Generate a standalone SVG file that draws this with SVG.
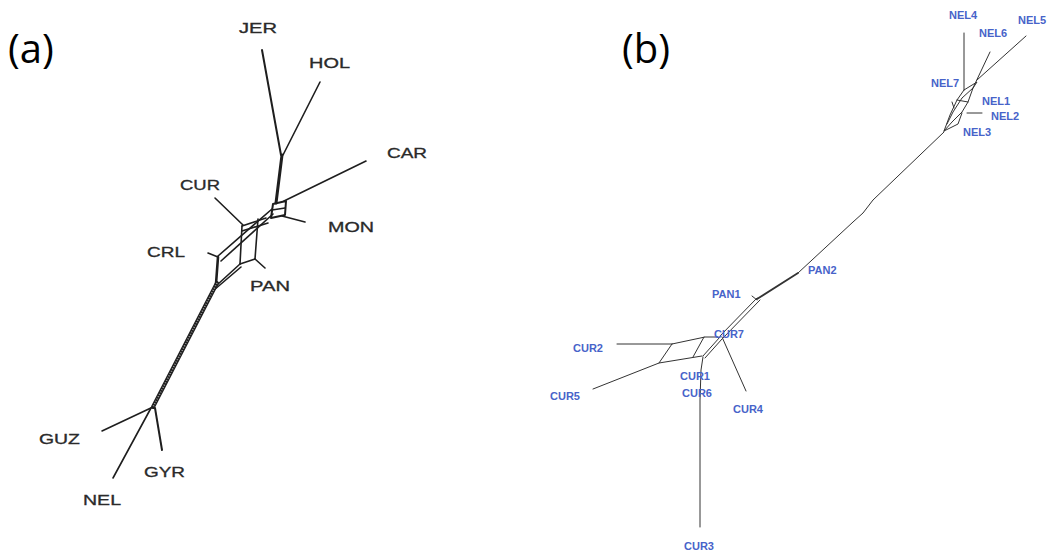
<svg xmlns="http://www.w3.org/2000/svg" width="1049" height="552" viewBox="0 0 1049 552">
<style>
.panel{font-family:"Open Sans","Liberation Sans",sans-serif;font-size:40px;fill:#000}
.la{font-family:"Liberation Sans",Arial,sans-serif;font-size:14px;fill:#2a2a2a;stroke:#2a2a2a;stroke-width:0.3}
.lb{font-family:"Liberation Sans",Arial,sans-serif;font-size:11px;font-weight:bold;fill:#4763c9}
.ea{stroke:#1e1e1e;stroke-width:1.6;fill:none;stroke-linecap:round;stroke-linejoin:round}
.eb{stroke:#333;stroke-width:1;fill:none;stroke-linecap:round;stroke-linejoin:round}
</style>
<rect width="1049" height="552" fill="#fff"/>
<text class="panel" x="8" y="63">(a)</text>
<text class="panel" x="622" y="63">(b)</text>

<g id="edges-a">
<line class="ea" x1="262" y1="50" x2="281" y2="155" style="stroke-width:2"/>
<line class="ea" x1="320" y1="82" x2="283" y2="155"/>
<line class="ea" x1="282" y1="155" x2="276" y2="203" style="stroke-width:3"/>
<line class="ea" x1="366" y1="161" x2="284" y2="201"/>
<polygon class="ea" points="273,204 286,201 285,215 271,218" style="stroke-width:2"/>
<line class="ea" x1="272" y1="210" x2="285" y2="208"/>
<line class="ea" x1="282" y1="216" x2="305" y2="222"/>
<line class="ea" x1="272" y1="209" x2="218" y2="256"/>
<line class="ea" x1="273" y1="214" x2="221" y2="261"/>
<line class="ea" x1="215" y1="198" x2="243" y2="225"/>
<line class="ea" x1="242" y1="226" x2="240" y2="264"/>
<line class="ea" x1="258" y1="219" x2="255" y2="259"/>
<line class="ea" x1="242" y1="226" x2="266" y2="218"/>
<line class="ea" x1="242" y1="231" x2="268" y2="223"/>
<line class="ea" x1="240" y1="264" x2="255" y2="259"/>
<line class="ea" x1="255" y1="259" x2="265" y2="268"/>
<line class="ea" x1="208" y1="253" x2="218" y2="257"/>
<line class="ea" x1="218" y1="257" x2="216" y2="284" style="stroke-width:2.6"/>
<line class="ea" x1="240" y1="264" x2="217" y2="285"/>
<line class="ea" x1="241" y1="267" x2="214" y2="290"/>
<line class="ea" x1="217" y1="283" x2="153" y2="407" style="stroke-width:4"/>
<line x1="217" y1="283" x2="153" y2="407" stroke="#9a9a9a" stroke-width="1.6" stroke-dasharray="1 1.6"/>
<line class="ea" x1="153" y1="407" x2="102" y2="431"/>
<line class="ea" x1="151" y1="408" x2="113" y2="478"/>
<line class="ea" x1="155" y1="408" x2="162" y2="450" style="stroke-width:2"/>
</g>

<g id="node-JER"><text class="la" x="239" y="33" textLength="38" lengthAdjust="spacingAndGlyphs">JER</text></g>
<g id="node-HOL"><text class="la" x="309" y="68" textLength="41" lengthAdjust="spacingAndGlyphs">HOL</text></g>
<g id="node-CAR"><text class="la" x="387" y="158" textLength="40" lengthAdjust="spacingAndGlyphs">CAR</text></g>
<g id="node-CUR"><text class="la" x="180" y="190" textLength="40" lengthAdjust="spacingAndGlyphs">CUR</text></g>
<g id="node-MON"><text class="la" x="328" y="232" textLength="46" lengthAdjust="spacingAndGlyphs">MON</text></g>
<g id="node-CRL"><text class="la" x="147" y="257" textLength="38" lengthAdjust="spacingAndGlyphs">CRL</text></g>
<g id="node-PAN"><text class="la" x="250" y="291" textLength="40" lengthAdjust="spacingAndGlyphs">PAN</text></g>
<g id="node-GUZ"><text class="la" x="39" y="444" textLength="41" lengthAdjust="spacingAndGlyphs">GUZ</text></g>
<g id="node-GYR"><text class="la" x="144" y="477" textLength="41" lengthAdjust="spacingAndGlyphs">GYR</text></g>
<g id="node-NEL"><text class="la" x="83" y="505" textLength="38" lengthAdjust="spacingAndGlyphs">NEL</text></g>

<g id="edges-b">
<line class="eb" x1="964" y1="33" x2="964" y2="90"/>
<line class="eb" x1="1026" y1="36" x2="977" y2="80"/>
<line class="eb" x1="990" y1="52" x2="973" y2="88"/>
<polyline class="eb" points="964,90 977,82 973,88 968,102 962,112 952,122 944,131"/>
<polyline class="eb" points="964,90 957,100 950,115 944,131"/>
<polyline class="eb" points="973,88 962,98 953,112 947,124"/>
<line class="eb" x1="957" y1="100" x2="968" y2="102"/>
<line class="eb" x1="952" y1="102" x2="954" y2="108"/>
<line class="eb" x1="967" y1="113" x2="982" y2="113"/>
<polyline class="eb" points="962,113 958,124 950,128 944,131"/>
<polyline class="eb" points="944,132 873,200 863,213 853,222 798,273"/>
<line class="eb" x1="798" y1="273" x2="757" y2="299" style="stroke-width:1.8"/>
<line class="eb" x1="752" y1="296" x2="757" y2="300"/>
<line class="eb" x1="757" y1="298" x2="720" y2="336"/>
<line class="eb" x1="760" y1="300" x2="723" y2="338"/>
<line class="eb" x1="617" y1="344" x2="672" y2="344"/>
<polyline class="eb" points="672,344 705,337 718,337"/>
<polyline class="eb" points="593,389 659,363 702,356"/>
<line class="eb" x1="672" y1="344" x2="659" y2="363"/>
<line class="eb" x1="704" y1="337" x2="693" y2="357"/>
<line class="eb" x1="720" y1="337" x2="703" y2="356"/>
<line class="eb" x1="722" y1="339" x2="705" y2="358"/>
<polyline class="eb" points="703,357 701,370 700,400 700,527"/>
<line class="eb" x1="722" y1="337" x2="746" y2="391"/>
</g>

<g id="node-NEL4"><text class="lb" x="949" y="19">NEL4</text></g>
<g id="node-NEL5"><text class="lb" x="1018" y="24">NEL5</text></g>
<g id="node-NEL6"><text class="lb" x="979" y="37">NEL6</text></g>
<g id="node-NEL7"><text class="lb" x="931" y="87">NEL7</text></g>
<g id="node-NEL1"><text class="lb" x="982" y="105">NEL1</text></g>
<g id="node-NEL2"><text class="lb" x="991" y="120">NEL2</text></g>
<g id="node-NEL3"><text class="lb" x="963" y="136">NEL3</text></g>
<g id="node-PAN2"><text class="lb" x="808" y="274">PAN2</text></g>
<g id="node-PAN1"><text class="lb" x="712" y="298">PAN1</text></g>
<g id="node-CUR7"><text class="lb" x="714" y="338">CUR7</text></g>
<g id="node-CUR2"><text class="lb" x="573" y="352">CUR2</text></g>
<g id="node-CUR1"><text class="lb" x="680" y="380">CUR1</text></g>
<g id="node-CUR6"><text class="lb" x="682" y="397">CUR6</text></g>
<g id="node-CUR5"><text class="lb" x="550" y="400">CUR5</text></g>
<g id="node-CUR4"><text class="lb" x="733" y="413">CUR4</text></g>
<g id="node-CUR3"><text class="lb" x="684" y="550">CUR3</text></g>
</svg>
